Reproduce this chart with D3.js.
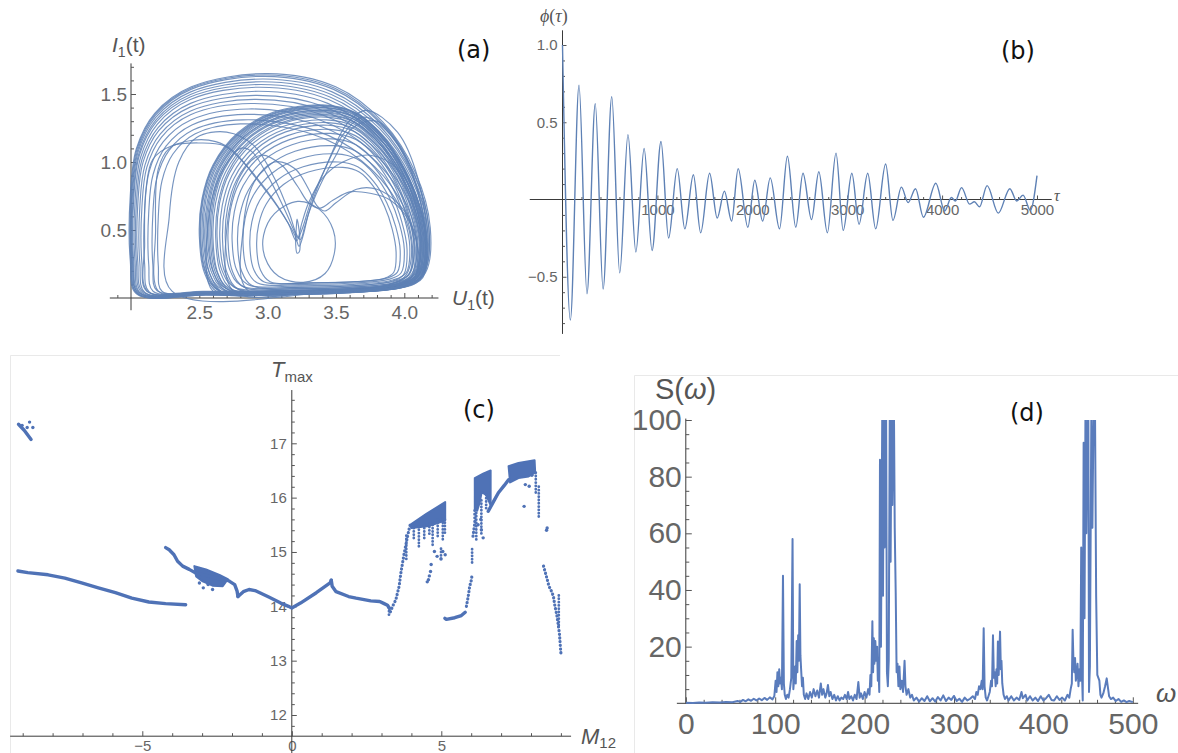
<!DOCTYPE html>
<html>
<head>
<meta charset="utf-8">
<title>Coupled oscillator: attractor, autocorrelation, bifurcation and spectrum</title>
<script src="https://cdn.jsdelivr.net/npm/d3@7/dist/d3.min.js"></script>
<style>
  html, body { margin: 0; padding: 0; background: #ffffff; }
  svg { display: block; }
  .panel-tag { font-family: "DejaVu Sans", "Open Sans", sans-serif; font-size: 24px; fill: #111; }
  .axis-title { font-family: "Liberation Sans", Arial, sans-serif; fill: #555; }
  .axis-line { stroke: #3a3a3a; stroke-width: 1; fill: none; }
  .frame { stroke: #e9e9e9; stroke-width: 1; fill: none; }
</style>
</head>
<body>
<svg id="figure" width="1178" height="753"></svg>
<script>
// ---------------- (a) phase portrait U1(t), I1(t) ----------------
const U_TICKS = [2.5, 3.0, 3.5, 4.0];
const I_TICKS = [0.5, 1.0, 1.5];
// large loops of the trajectory: [uLeft, iTop, uTop, uRight, iBottom]
const outerLoops = [
  [1.995, 1.65, 3.00, 4.19, 0.030],
  [2.000, 1.64, 2.99, 4.18, 0.035],
  [2.005, 1.63, 2.98, 4.18, 0.030],
  [2.010, 1.61, 2.97, 4.17, 0.040],
  [2.015, 1.59, 2.96, 4.17, 0.030],
  [2.020, 1.57, 2.95, 4.16, 0.040],
  [2.030, 1.55, 2.94, 4.15, 0.035],
  [2.040, 1.52, 2.93, 4.15, 0.040],
  [2.050, 1.49, 2.91, 4.14, 0.045],
  [2.065, 1.46, 2.90, 4.13, 0.040],
  [2.080, 1.43, 2.88, 4.12, 0.050],
  [2.100, 1.39, 2.86, 4.11, 0.045],
  [2.130, 1.35, 2.84, 4.09, 0.050],
  [2.160, 1.31, 2.82, 4.07, 0.055],
  [2.200, 1.28, 2.80, 4.05, 0.050]
];
// loops of the dense right-hand band: [uLeft, iTop, uTop, uRight, iBottom]
const bandLoops = [
  [2.50, 1.42, 3.40, 4.17, 0.04],
  [2.505, 1.415, 3.41, 4.165, 0.05],
  [2.51, 1.41, 3.41, 4.16, 0.05],
  [2.52, 1.40, 3.40, 4.16, 0.05],
  [2.53, 1.40, 3.42, 4.15, 0.06],
  [2.54, 1.39, 3.40, 4.15, 0.04],
  [2.55, 1.38, 3.41, 4.14, 0.06],
  [2.56, 1.38, 3.42, 4.14, 0.07],
  [2.57, 1.37, 3.40, 4.13, 0.05],
  [2.58, 1.36, 3.42, 4.13, 0.06],
  [2.59, 1.35, 3.41, 4.12, 0.07],
  [2.60, 1.34, 3.43, 4.12, 0.05],
  [2.62, 1.33, 3.42, 4.11, 0.06],
  [2.63, 1.31, 3.43, 4.10, 0.08],
  [2.65, 1.29, 3.44, 4.09, 0.07],
  [2.67, 1.27, 3.44, 4.08, 0.06],
  [2.69, 1.24, 3.45, 4.07, 0.09],
  [2.71, 1.21, 3.46, 4.06, 0.08],
  [2.74, 1.17, 3.47, 4.04, 0.10],
  [2.78, 1.12, 3.48, 4.02, 0.09],
  [2.82, 1.06, 3.50, 4.00, 0.11],
  [2.87, 1.00, 3.52, 3.97, 0.12],
  [2.92, 0.96, 3.55, 3.94, 0.12]
];
// passages that dive through the central cusp
const cuspPaths = [
  [[2.12,0.05],[2.10,0.40],[2.11,0.80],[2.16,1.02],[2.30,1.12],[2.50,1.14],[2.68,1.12],[2.82,1.00],[3.00,0.78],[3.15,0.55],[3.21,0.42],[3.25,0.50],[3.32,0.72],[3.42,0.95],[3.55,1.20],[3.70,1.33],[3.90,1.20],[4.06,0.90],[4.15,0.50],[4.12,0.15],[3.90,0.07],[3.20,0.03],[2.50,0.03]],
  [[2.20,0.05],[2.18,0.50],[2.20,0.95],[2.28,1.10],[2.45,1.16],[2.62,1.15],[2.75,1.08],[2.90,0.90],[3.08,0.66],[3.20,0.46],[3.23,0.38],[3.26,0.46],[3.30,0.62],[3.38,0.82],[3.50,1.05],[3.62,1.25],[3.80,1.30],[3.98,1.10],[4.12,0.70],[4.16,0.35],[4.10,0.12],[3.70,0.06],[3.00,0.03],[2.40,0.03]],
  [[2.60,0.05],[2.56,0.50],[2.65,0.90],[2.80,1.10],[2.88,1.08],[3.00,0.90],[3.12,0.66],[3.20,0.48],[3.22,0.44],[3.25,0.55],[3.30,0.70],[3.40,0.88],[3.55,1.00],[3.75,1.05],[3.95,0.95],[4.08,0.70],[4.12,0.35],[4.05,0.12],[3.60,0.06],[2.90,0.03]],
  [[2.30,0.05],[2.28,0.60],[2.35,1.00],[2.48,1.18],[2.70,1.22],[2.90,1.12],[3.05,0.88],[3.16,0.62],[3.21,0.47],[3.24,0.43],[3.27,0.52],[3.33,0.72],[3.45,1.02],[3.58,1.28],[3.72,1.38],[3.95,1.22],[4.10,0.88],[4.16,0.45],[4.10,0.13],[3.50,0.05]],
  [[2.75,0.05],[2.70,0.50],[2.80,0.90],[2.95,1.05],[3.10,0.98],[3.22,0.82],[3.30,0.70],[3.38,0.66],[3.48,0.72],[3.60,0.78],[3.75,0.77],[3.88,0.73],[4.00,0.62],[4.08,0.45],[4.10,0.20],[4.00,0.10],[3.40,0.05]],
  [[2.85,0.06],[2.82,0.50],[2.90,0.85],[3.05,1.00],[3.20,0.95],[3.30,0.80],[3.36,0.68],[3.42,0.64],[3.50,0.70],[3.65,0.80],[3.80,0.80],[3.95,0.70],[4.05,0.55],[4.10,0.30],[4.05,0.12],[3.50,0.06]]
];
const tipLoop = [[3.215,0.58],[3.235,0.45],[3.232,0.34],[3.215,0.33],[3.205,0.40],[3.21,0.52]];
const eggLoop = [[3.22,0.71],[3.38,0.65],[3.48,0.50],[3.49,0.34],[3.42,0.18],[3.26,0.115],[3.08,0.16],[2.98,0.30],[2.97,0.46],[3.05,0.62]];

// ---------------- (b) autocorrelation phi(tau): successive extrema ----------------
const TAU_TICKS = [1000, 2000, 3000, 4000, 5000];
const PHI_TICKS = [-0.5, 0.5, 1.0];
const phiTau = [0,83,174,258,345,428,519,603,690,773,860,944,1038,1118,1209,1289,1379,1456,1550,1630,
  1706,1782,1851,1953,2026,2109,2189,2287,2370,2458,2534,2624,2701,2791,2882,2958,3049,3125,3216,3300,
  3405,3482,3571,3642,3720,3803,3934,4027,4098,4140,4205,4290,4340,4395,4474,4592,4714,4786,4853,4930,5000];
const phiVal = [1.0,-0.78,0.74,-0.61,0.62,-0.58,0.665,-0.475,0.42,-0.34,0.33,-0.33,0.375,-0.25,0.2,-0.19,0.16,-0.215,0.17,-0.12,
  0.054,-0.14,0.2,-0.18,0.125,-0.14,0.14,-0.19,0.28,-0.18,0.17,-0.13,0.18,-0.215,0.3,-0.2,0.17,-0.16,0.17,-0.19,
  0.23,-0.135,0.08,-0.02,0.07,-0.115,0.105,-0.075,0.013,-0.01,0.077,-0.03,-0.015,-0.047,0.09,-0.088,0.07,-0.01,0.028,-0.07,0.155];

// ---------------- (c) bifurcation diagram T_max vs M12 ----------------
const M_TICKS = [-5, 0, 5];
const T_TICKS = [12, 13, 14, 15, 16, 17];
const cSolid = [
  [[-9.14,17.35],[-8.95,17.24],[-8.72,17.07]],
  [[-9.16,14.65],[-8.83,14.62],[-8.15,14.58],[-7.59,14.52],[-7.03,14.43],[-6.47,14.34],[-5.90,14.25],[-5.35,14.15],[-4.78,14.08],[-4.22,14.05],[-3.55,14.03]],
  [[-4.22,15.08],[-4.10,15.04],[-3.94,14.95],[-3.82,14.83],[-3.65,14.74],[-3.43,14.68],[-3.20,14.61],[-2.87,14.57],[-2.53,14.52],[-2.19,14.49],[-2.08,14.46],[-1.91,14.40],[-1.83,14.28],[-1.80,14.18]],
  [[-1.80,14.18],[-1.62,14.27],[-1.43,14.31],[-1.23,14.29],[-0.77,14.17],[-0.37,14.06],[-0.11,14.00],[0,13.97],[0.29,14.06],[0.82,14.25],[1.28,14.43],[1.32,14.48]],
  [[1.32,14.48],[1.35,14.37],[1.48,14.27],[1.90,14.18],[2.15,14.15],[2.64,14.10],[2.94,14.09],[3.09,14.05],[3.20,14.02],[3.27,13.96]],
  [[5.12,13.78],[5.17,13.76],[5.45,13.79],[5.67,13.83],[5.80,13.89]],
  [[6.57,15.75],[6.75,15.93],[6.91,16.09],[7.10,16.22],[7.25,16.33]]
];
const cDotted = [
  [[3.30,13.90],[3.37,14.00],[3.48,14.12],[3.59,14.37],[3.65,14.62],[3.72,14.85],[3.76,14.98],[3.85,15.23],[3.93,15.44],[3.96,15.50]],
  [[5.84,14.00],[5.90,14.18],[5.95,14.37],[6.01,14.49],[6.03,14.60]],
  [[6.06,15.29],[6.12,15.53],[6.12,15.80]],
  [[8.42,14.74],[8.48,14.62],[8.54,14.50],[8.60,14.37],[8.71,14.25],[8.76,14.15],[8.80,14.00],[8.86,13.85],[8.90,13.70],[8.95,13.50],[8.99,13.20],[9.00,13.14]]
];
const cBands = [
  [[-3.26,14.74],[-2.87,14.68],[-2.42,14.58],[-2.14,14.50],[-2.31,14.37],[-2.65,14.38],[-2.98,14.46],[-3.20,14.55]],
  [[3.96,15.50],[4.50,15.70],[5.13,15.92],[5.13,15.58],[4.60,15.48],[4.00,15.44]],
  [[6.12,16.36],[6.40,16.44],[6.65,16.50],[6.65,15.86],[6.50,16.05],[6.35,16.10],[6.28,15.90],[6.20,15.76],[6.12,15.80]],
  [[7.25,16.58],[7.58,16.64],[8.12,16.69],[8.14,16.46],[7.92,16.39],[7.58,16.36],[7.30,16.28]]
];
// columns of scattered maxima: [M12, Ttop, Tbottom]
const cColumns = [
  [3.25,13.97,13.80],[3.83,15.30,14.86],
  [4.08,15.44,15.23],[4.25,15.47,15.10],[4.43,15.50,15.23],[4.60,15.52,15.30],[4.71,15.56,15.10],
  [4.88,15.60,15.29],[5.05,15.66,15.23],[5.12,15.60,15.35],[4.99,15.06,14.86],
  [6.03,15.05,14.80],[6.17,15.84,15.23],[6.34,15.95,15.30],[6.50,16.05,15.80],
  [8.16,16.46,16.05],[8.26,16.20,15.60],[8.93,14.20,13.60]
];
const cDots = [
  [-8.77,17.39],[-8.66,17.29],[-8.85,17.29],[-9.02,17.33],
  [-3.09,14.43],[-2.96,14.34],[-2.65,14.31],[-2.80,14.40],
  [4.77,15.01],[4.86,14.92],[4.99,14.87],[5.13,14.95],[5.05,15.01],[4.66,14.77],[4.64,14.64],[4.60,14.56],[4.57,14.49],[4.53,14.45],
  [6.23,15.50],[6.34,15.41],[6.40,15.26],[6.32,15.60],
  [7.81,16.24],[7.94,16.21],[8.03,16.41],[7.77,15.84],
  [8.54,15.44],[8.52,15.40]
];

// ---------------- (d) power spectrum S(omega) ----------------
const W_TICKS = [0, 100, 200, 300, 400, 500];
const S_TICKS = [20, 40, 60, 80, 100];
const spectrum = [
  [0,0.2],[8,0.1],[15,0.3],[22,0.2],[30,0.4],[38,0.3],[45,0.5],[52,0.4],[58,0.8],[61,0.5],[64,1.2],[67,0.7],[70,1.4],[73,0.9],[76,1.6],[79,1.0],[82,1.7],[85,1.1],[88,1.9],[91,1.2],[94,2.1],[97,1.4],[99,2.5],
  [100.5,8],[101.5,4],[102.5,11],[103.5,6],[104.5,12],[105.5,7],[106.5,9],[107.5,5],[108.7,45],[109.7,7],[110.7,3],[112,1.5],[113.5,3],[115,2],[116.5,5],[118,9],[119.4,58],[120.3,5],[121.3,9],[122.2,13],[123,7],[124,22],[124.8,11],[125.7,24],[126.5,15],[127.4,42],[128.2,17],[129,12],[130,6],[131,9],[132,3],[133.5,1.5],
  [135,3.5],[137,1.5],[139,4],[141,2],[143,5],[145,2.5],[147,4.5],[149,2],[151,7],[152.5,3],[154,5],[156,2],[157.5,3.5],[159,6.5],[160.5,2.5],[162,4],[164,1.5],[166,3],[168,1],[170,2.5],[172,1],[174,2],[176,1.5],[178,3],[180,1.5],[181.5,4],[183,1.5],[185,2.5],[187,1],[189,3],[191,1.5],[193,7.5],[194.5,2],[196,3.5],[198,1.5],[200,4],[202,2],[204,5],
  [205.5,3],[206.5,10],[207.5,6],[208.7,29],[209.5,11],[210.3,23],[211,14],[212,22],[213,15],[214,20],[214.8,8],[215.6,12],[216.4,4],[217.2,86],[218.3,20],[219.7,100],[220.6,38],[221.4,100],[222.3,55],[223.2,100],[224.1,100],[225,11],[226,6],[227,15],[228.1,100],[229.1,50],[230,100],[231,70],[232,100],[232.9,100],[233.7,62],[234.8,39],[235.8,11],[236.8,14],[237.8,6],[239,13],[240,5],[241.5,8],[243,4],[244.7,15],[245.7,6],[247,3],[249,5],[251,2],[253,3],[255,1],
  [258,2],[261,0.6],[264,1.8],[267,0.8],[270,2.5],[273,0.7],[276,1.8],[279,0.6],[282,2.2],[285,1],[288,2.8],[291,0.8],[294,2],[297,1.2],[300,2.6],[303,0.8],[306,1.6],[309,0.5],[312,2],[315,1],[318,1.6],[321,2.5],[323.5,1.5],
  [325,4],[326.5,3],[328,6],[329.5,5],[331,8],[332,5],[333.2,26.5],[334.2,6],[335.5,2],[337,1],[338.5,2.5],[340,4],[341.5,8],[342.5,6],[343.6,24],[344.6,9],[345.6,11],[346.6,6],[347.5,12],[348.3,7],[349.1,21.8],[350,10],[351.5,25.3],[352.4,12],[353.1,15],[354,7],[355.5,3],[357,1.5],[359,2.5],
  [361,1],[364,2.5],[367,1],[370,2],[373,1.2],[375.5,4],[377,1.8],[380,3],[382,1],[385,2.5],[388,1],[391,2],[394,0.8],[397,2.5],[400,1],[403,1.8],[406,3],[409,1.2],[412,1],[415,2.5],[418,1.2],[421,2],[424,1],[427,3],[429,2],
  [430.5,5],[431.8,7],[432.7,26],[433.6,15],[434.5,11],[435.4,16],[436.3,8],[437.2,10],[438.2,14],[439.2,6],[440.3,12],[441.3,8],[442.3,55],[443.2,10],[444,1],[445,92],[446,30],[447,100],[448,60],[449.3,100],[450.3,100],[451,4],[452,13],[453.6,100],[454.8,62],[456,100],[457.8,100],[459,38],[460.3,10],[461.5,9],[462.6,8],[463.8,3],[465,2],[467,3.5],[469,6],[470.8,8.8],[472,6],[473.5,2.5],[475.5,1.5],[478,2],[481,0.8],[484,1.5],[487,0.5],[490,1],[493,0.4],[496,0.8],[500,0.4]
];

// ======================================================================
const svg = d3.select("#figure");
const LINE_BLUE = "#5e81b5";
const MARK_BLUE = "#4f72b6";

// faint edges of the lower sub-figures
svg.append("path").attr("class", "frame").attr("d", "M10.5,753V355.5H560");
svg.append("path").attr("class", "frame").attr("d", "M634.5,753V375.5H1178");

// Mathematica-style axes: ticks pointing into the plot, labels outside.
function drawAxes(o) {
  const g = svg.append("g");
  const x0 = o.x(o.originX), y0 = o.y(o.originY);
  const clean = s => { s.select(".domain").remove(); s.attr("font-size", null).attr("font-family", null).attr("color", "#555"); };

  const gx = g.append("g").attr("transform", `translate(0,${y0})`);
  gx.append("line").attr("class", "axis-line").attr("x1", o.x(o.xSpan[0])).attr("x2", o.x(o.xSpan[1]));
  gx.append("g").call(d3.axisBottom(o.x).tickValues(o.xMinor).tickSize(-o.minorLen).tickSizeOuter(0).tickFormat("")).call(clean);
  gx.append("g").call(d3.axisBottom(o.x).tickValues(o.xMajor).tickSize(-o.majorLen).tickSizeOuter(0).tickPadding(o.xPad).tickFormat(o.xFmt)).call(clean)
    .selectAll("text").attr("font-size", o.fontSize).attr("font-family", "'Liberation Sans', Arial, sans-serif").attr("fill", "#666");

  const gy = g.append("g").attr("transform", `translate(${x0},0)`);
  gy.append("line").attr("class", "axis-line").attr("y1", o.y(o.ySpan[0])).attr("y2", o.y(o.ySpan[1]));
  gy.append("g").call(d3.axisLeft(o.y).tickValues(o.yMinor).tickSize(-o.minorLen).tickSizeOuter(0).tickFormat("")).call(clean);
  gy.append("g").call(d3.axisLeft(o.y).tickValues(o.yMajor).tickSize(-o.majorLen).tickSizeOuter(0).tickPadding(o.yPad).tickFormat(o.yFmt)).call(clean)
    .selectAll("text").attr("font-size", o.fontSize).attr("font-family", "'Liberation Sans', Arial, sans-serif").attr("fill", "#666");
  g.selectAll(".tick line").attr("stroke", "#555");
  return g;
}
const notIn = arr => v => !arr.some(a => Math.abs(a - v) < 1e-9);

// ---------------- panel (a) ----------------
const xA = d3.scaleLinear().domain([2.0, 4.0]).range([131, 404.3]);
const yA = d3.scaleLinear().domain([0, 1.5]).range([298, 94]);
drawAxes({
  x: xA, y: yA, originX: 2.0, originY: 0,
  xSpan: [1.845, 4.25], ySpan: [-0.09, 1.725],
  xMajor: U_TICKS, xMinor: d3.range(19, 43).map(v => v / 10).filter(notIn([2.0, ...U_TICKS])),
  yMajor: I_TICKS, yMinor: d3.range(1, 18).map(v => v / 10).filter(notIn(I_TICKS)),
  majorLen: 5, minorLen: 3, fontSize: 19, xPad: 8, yPad: 4,
  xFmt: d3.format(".1f"), yFmt: d3.format(".1f")
});

// normalised outlines of the two loop families; s in [0,1] across, t in [0,1] up
const OUTER_SHAPE = [[0.02,0],[0,0.15],[0,0.45],[0.02,0.66],[0.08,0.82],[0.2,0.94],[0.45,1],[0.68,0.94],[0.84,0.78],[0.95,0.55],[1,0.3],[0.985,0.1],[0.93,0.04],[0.6,0],[0.25,-0.005]];
const BAND_SHAPE = [[0.07,0],[0.02,0.1],[0,0.3],[0.01,0.5],[0.05,0.68],[0.14,0.85],[0.27,0.96],[0.45,1],[0.62,0.96],[0.76,0.84],[0.88,0.66],[0.96,0.46],[1,0.26],[0.975,0.08],[0.88,0.03],[0.6,0],[0.3,-0.01]];
function loopPoints(shape, p) {
  const [uL, iTop, uTop, uR, iB] = p, s0 = 0.45;
  return shape.map(([s, t]) => [
    s <= s0 ? uL + (s / s0) * (uTop - uL) : uTop + ((s - s0) / (1 - s0)) * (uR - uTop),
    iB + t * (iTop - iB)
  ]);
}
const closedA = d3.line().x(d => xA(d[0])).y(d => yA(d[1])).curve(d3.curveCatmullRomClosed.alpha(0.5));
const gA = svg.append("g").attr("fill", "none").attr("stroke", LINE_BLUE).attr("stroke-width", 1.15).attr("stroke-opacity", 0.85);
gA.selectAll("path.outer").data(outerLoops).join("path").attr("class", "outer").attr("d", p => closedA(loopPoints(OUTER_SHAPE, p)));
gA.selectAll("path.band").data(bandLoops).join("path").attr("class", "band").attr("d", p => closedA(loopPoints(BAND_SHAPE, p)));
gA.selectAll("path.cusp").data(cuspPaths).join("path").attr("class", "cusp").attr("d", closedA);
gA.append("path").attr("d", closedA(tipLoop));
gA.append("path").attr("d", closedA(eggLoop));

const tA = svg.append("text").attr("class", "axis-title").attr("x", 112).attr("y", 52).attr("font-size", 21);
tA.append("tspan").attr("font-style", "italic").text("I");
tA.append("tspan").attr("font-size", 14).attr("dy", 5).text("1");
tA.append("tspan").attr("dy", -5).text("(t)");
const tA2 = svg.append("text").attr("class", "axis-title").attr("x", 452).attr("y", 305).attr("font-size", 21);
tA2.append("tspan").attr("font-style", "italic").text("U");
tA2.append("tspan").attr("font-size", 14).attr("dy", 5).text("1");
tA2.append("tspan").attr("dy", -5).text("(t)");
svg.append("text").attr("class", "panel-tag").attr("x", 457).attr("y", 58).text("(a)");

// ---------------- panel (b) ----------------
const xB = d3.scaleLinear().domain([0, 5000]).range([562.5, 1037]);
const yB = d3.scaleLinear().domain([0, 1]).range([199.5, 45]);
drawAxes({
  x: xB, y: yB, originX: 0, originY: 0,
  xSpan: [-345, 5155], ySpan: [-0.87, 1.095],
  xMajor: TAU_TICKS, xMinor: d3.range(200, 5001, 200).filter(v => v % 1000 !== 0),
  yMajor: PHI_TICKS, yMinor: d3.range(-8, 11).map(v => v / 10).filter(notIn([0, ...PHI_TICKS])),
  majorLen: 4, minorLen: 2.5, fontSize: 15, xPad: 5, yPad: 5,
  xFmt: d3.format("d"), yFmt: d3.format(".1f")
});
const phiLine = d3.line().x(i => xB(phiTau[i])).y(i => yB(phiVal[i])).curve(d3.curveMonotoneX);
svg.append("path").attr("d", phiLine(d3.range(phiTau.length)))
  .attr("fill", "none").attr("stroke", LINE_BLUE).attr("stroke-width", 1.4);
const tB = svg.append("text").attr("x", 540).attr("y", 22).attr("font-size", 18).attr("fill", "#555")
  .attr("font-family", "'Liberation Serif', 'DejaVu Serif', serif");
tB.append("tspan").attr("font-style", "italic").text("ϕ");
tB.append("tspan").text("(");
tB.append("tspan").attr("font-style", "italic").text("τ");
tB.append("tspan").text(")");
svg.append("text").attr("x", 1054).attr("y", 201).attr("font-size", 16).attr("fill", "#555")
  .attr("font-family", "'Liberation Serif', 'DejaVu Serif', serif").attr("font-style", "italic").text("τ");
svg.append("text").attr("class", "panel-tag").attr("x", 1001).attr("y", 59).text("(b)");

// ---------------- panel (c) ----------------
const xC = d3.scaleLinear().domain([-5, 5]).range([142.3, 441.3]);
const yC = d3.scaleLinear().domain([12, 17]).range([715, 443.3]);
drawAxes({
  x: xC, y: yC, originX: 0, originY: 11.61,
  xSpan: [-9.42, 9.34], ySpan: [11.3, 17.98],
  xMajor: M_TICKS, xMinor: d3.range(-9, 10).filter(notIn(M_TICKS)),
  yMajor: T_TICKS, yMinor: d3.range(59, 90).map(v => v / 5).filter(v => !Number.isInteger(v)),
  majorLen: 5, minorLen: 3, fontSize: 15, xPad: 4.5, yPad: 5,
  xFmt: d3.format("d"), yFmt: d3.format("d")
});
const lineC = d3.line().x(d => xC(d[0])).y(d => yC(d[1]));
const gC = svg.append("g");
gC.selectAll("path.fill").data(cBands).join("path").attr("class", "fill")
  .attr("d", d => lineC(d) + "Z").attr("fill", MARK_BLUE).attr("stroke", MARK_BLUE)
  .attr("stroke-width", 2).attr("stroke-linejoin", "round");
gC.selectAll("path.solid").data(cSolid).join("path").attr("class", "solid").attr("d", lineC)
  .attr("fill", "none").attr("stroke", MARK_BLUE).attr("stroke-width", 3.4)
  .attr("stroke-linecap", "round").attr("stroke-linejoin", "round");
gC.selectAll("path.dotted").data(cDotted).join("path").attr("class", "dotted").attr("d", lineC)
  .attr("fill", "none").attr("stroke", MARK_BLUE).attr("stroke-width", 3.2)
  .attr("stroke-linecap", "round").attr("stroke-dasharray", "0.1 3.6");
gC.selectAll("line.col").data(cColumns).join("line").attr("class", "col")
  .attr("x1", d => xC(d[0])).attr("x2", d => xC(d[0]))
  .attr("y1", d => yC(d[1])).attr("y2", d => yC(d[2]))
  .attr("stroke", MARK_BLUE).attr("stroke-width", 2.8).attr("stroke-linecap", "round").attr("stroke-dasharray", "0.1 3.2");
gC.selectAll("circle").data(cDots).join("circle")
  .attr("cx", d => xC(d[0])).attr("cy", d => yC(d[1])).attr("r", 1.7).attr("fill", MARK_BLUE);

const tC = svg.append("text").attr("class", "axis-title").attr("x", 271).attr("y", 377).attr("font-size", 22);
tC.append("tspan").attr("font-style", "italic").text("T");
tC.append("tspan").attr("font-size", 15).attr("dy", 5).text("max");
const tC2 = svg.append("text").attr("class", "axis-title").attr("x", 581).attr("y", 744).attr("font-size", 22);
tC2.append("tspan").attr("font-style", "italic").text("M");
tC2.append("tspan").attr("font-size", 15).attr("dy", 4).text("12");
svg.append("text").attr("class", "panel-tag").attr("x", 463).attr("y", 418).text("(c)");

// ---------------- panel (d) ----------------
const xD = d3.scaleLinear().domain([0, 500]).range([685.8, 1132.8]);
const yD = d3.scaleLinear().domain([0, 100]).range([703.3, 420]);
drawAxes({
  x: xD, y: yD, originX: 0, originY: 0,
  xSpan: [-10, 506], ySpan: [0, 100.5],
  xMajor: W_TICKS, xMinor: d3.range(20, 501, 20).filter(v => v % 100 !== 0),
  yMajor: S_TICKS, yMinor: d3.range(5, 100, 5).filter(v => v % 20 !== 0),
  majorLen: 6, minorLen: 3.5, fontSize: 30, xPad: 9, yPad: 4,
  xFmt: d3.format("d"), yFmt: d3.format("d")
});
svg.append("clipPath").attr("id", "clipD").append("rect")
  .attr("x", xD(0)).attr("y", yD(100)).attr("width", xD(505) - xD(0)).attr("height", yD(-2) - yD(100));
svg.append("path").attr("clip-path", "url(#clipD)")
  .attr("d", d3.line().x(d => xD(d[0])).y(d => yD(d[1]))(spectrum))
  .attr("fill", "none").attr("stroke", "#5a7cbc").attr("stroke-width", 2).attr("stroke-linejoin", "round");
const tD = svg.append("text").attr("class", "axis-title").attr("x", 655).attr("y", 399).attr("font-size", 29).attr("fill", "#666");
tD.append("tspan").text("S(");
tD.append("tspan").attr("font-style", "italic").text("ω");
tD.append("tspan").text(")");
svg.append("text").attr("class", "axis-title").attr("x", 1156).attr("y", 702).attr("font-size", 26)
  .attr("fill", "#666").attr("font-style", "italic").text("ω");
svg.append("text").attr("class", "panel-tag").attr("x", 1010).attr("y", 421).text("(d)");
</script>
</body>
</html>
